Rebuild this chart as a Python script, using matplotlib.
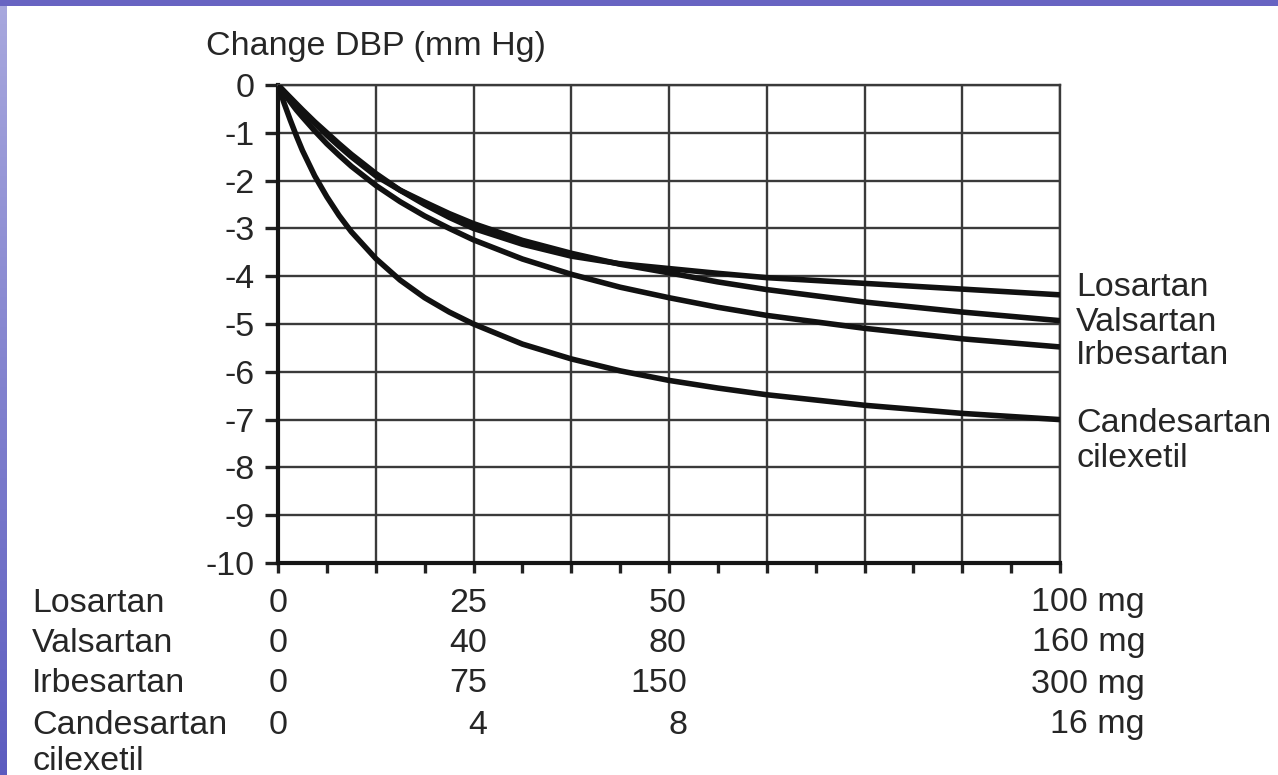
import numpy as np
import matplotlib
matplotlib.use("Agg")
import matplotlib.pyplot as plt
from matplotlib.patches import Rectangle

# Dose axis (percent of the maximal dose) and fall in diastolic pressure
dose_pct = [0, 0.78, 1.56, 2.34, 3.125, 4.69, 6.25, 7.81, 9.375, 12.5, 15.6, 18.75, 21.9,
            25, 31.25, 37.5, 43.75, 50, 56.25, 62.5, 75, 87.5, 100]

losartan = [0, -0.13, -0.26, -0.39, -0.52, -0.77, -1.0, -1.23, -1.45, -1.85, -2.2, -2.5, -2.77,
            -3.0, -3.33, -3.58, -3.74, -3.84, -3.94, -4.03, -4.15, -4.27, -4.39]
valsartan = [0, -0.14, -0.28, -0.42, -0.55, -0.8, -1.05, -1.28, -1.5, -1.9, -2.2, -2.45, -2.69,
             -2.9, -3.25, -3.52, -3.75, -3.93, -4.12, -4.28, -4.54, -4.75, -4.93]
irbesartan = [0, -0.18, -0.35, -0.52, -0.67, -0.96, -1.23, -1.47, -1.7, -2.1, -2.44, -2.74, -3.0,
              -3.24, -3.64, -3.96, -4.23, -4.45, -4.65, -4.82, -5.09, -5.31, -5.48]
candesartan = [0, -0.38, -0.73, -1.06, -1.37, -1.9, -2.34, -2.73, -3.07, -3.63, -4.08, -4.45, -4.75,
               -5.0, -5.42, -5.73, -5.98, -6.18, -6.34, -6.48, -6.7, -6.87, -7.0]

curve_names = ["Losartan", "Valsartan", "Irbesartan", "Candesartan\ncilexetil"]

# Dose table under the x axis
table_drugs = ["Losartan", "Valsartan", "Irbesartan", "Candesartan\ncilexetil"]
dose_zero = ["0", "0", "0", "0"]
dose_quarter = ["25", "40", "75", "4"]
dose_half = ["50", "80", "150", "8"]
dose_full = ["100 mg", "160 mg", "300 mg", "16 mg"]

y_ticks = list(range(-10, 1))

W, H = 1278, 775
TXT = "#262626"

plt.rcParams["font.family"] = ["Liberation Sans", "DejaVu Sans"]
plt.rcParams["axes.unicode_minus"] = False


def fx(x):
    return x / W


def fy(y):
    return 1 - y / H


def draw_background(fig):
    # slide frame: lavender strip on the left, blue band on top
    bg = fig.add_axes([0, 0, 1, 1], zorder=-10)
    bg.set_axis_off()
    grad = np.linspace(0, 1, 256)[:, None]
    top = np.array([0.66, 0.66, 0.87])
    bot = np.array([0.36, 0.36, 0.75])
    img = top[None, None, :] * (1 - grad[:, :, None]) + bot[None, None, :] * grad[:, :, None]
    bg.imshow(img, aspect="auto", extent=[0, 1, 0, 1])
    bg.set_xlim(0, 1)
    bg.set_ylim(0, 1)
    bg.add_patch(Rectangle((0, fy(6)), 1, 1 - fy(6), color="#6864c2", lw=0))
    bg.add_patch(Rectangle((fx(7), 0), 1, fy(6), color="white", lw=0))


def main():
    fig = plt.figure(figsize=(W / 100, H / 100), dpi=100)
    draw_background(fig)

    ax = fig.add_axes([fx(278), fy(563), fx(1060) - fx(278), fy(85) - fy(563)])
    ax.set_facecolor("none")

    for vals in [losartan, valsartan, irbesartan, candesartan]:
        ax.plot(dose_pct, vals, color="#111111", lw=4.0, solid_capstyle="butt",
                solid_joinstyle="round", zorder=5)

    ax.set_xlim(0, 100)
    ax.set_ylim(-10, 0)
    ax.set_yticks(y_ticks)
    ax.set_yticklabels([str(t) for t in y_ticks])
    ax.set_xticks(np.arange(0, 100.1, 12.5))
    ax.set_xticks(np.arange(6.25, 100, 12.5), minor=True)
    ax.set_xticklabels([])
    ax.grid(True, which="major", color="#3a3a3a", lw=1.7)
    ax.set_axisbelow(True)

    fs = 24.5
    ax.tick_params(axis="y", direction="out", length=9.5, width=2.4, color="#222222",
                   labelsize=fs, labelcolor=TXT, pad=7)
    ax.tick_params(axis="x", which="both", direction="out", length=7, width=2.4,
                   color="#222222", top=False)

    for side in ["left", "bottom"]:
        ax.spines[side].set_linewidth(3)
        ax.spines[side].set_color("#151515")
    for side in ["top", "right"]:
        ax.spines[side].set_linewidth(1.7)
        ax.spines[side].set_color("#3a3a3a")

    fig.text(fx(206), fy(47), "Change DBP (mm Hg)", fontsize=fs, color=TXT, va="center", ha="left")

    # curve labels on the right
    label_y = [287, 322, 356, 441]
    for name, y in zip(curve_names, label_y):
        fig.text(fx(1076), fy(y), name, fontsize=fs, color=TXT, va="center", ha="left",
                 linespacing=1.2)

    # dose table
    row_y = [603, 643, 684, 725]
    for i, y in enumerate(row_y):
        drug = table_drugs[i]
        if "\n" in drug:
            first, second = drug.split("\n")
            fig.text(fx(32), fy(y), first, fontsize=fs, color=TXT, va="center", ha="left")
            fig.text(fx(32), fy(y + 37), second, fontsize=fs, color=TXT, va="center", ha="left")
        else:
            fig.text(fx(32), fy(y), drug, fontsize=fs, color=TXT, va="center", ha="left")
        fig.text(fx(278), fy(y), dose_zero[i], fontsize=fs, color=TXT, va="center", ha="center")
        fig.text(fx(487), fy(y), dose_quarter[i], fontsize=fs, color=TXT, va="center", ha="right")
        fig.text(fx(687), fy(y), dose_half[i], fontsize=fs, color=TXT, va="center", ha="right")
        fig.text(fx(1145), fy(y), dose_full[i], fontsize=fs, color=TXT, va="center", ha="right")

    fig.savefig("out.png", dpi=100)


if __name__ == "__main__":
    main()
